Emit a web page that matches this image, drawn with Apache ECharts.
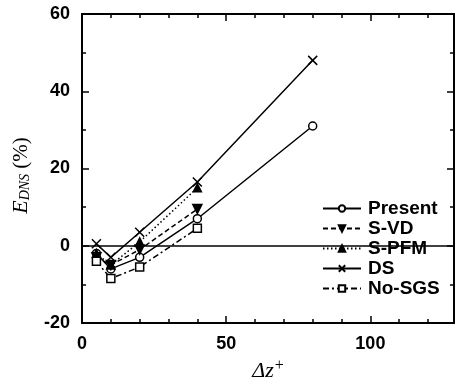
<!DOCTYPE html>
<html><head><meta charset="utf-8">
<script src="https://cdn.jsdelivr.net/npm/echarts@6/dist/echarts.min.js"></script>
<style>html,body{margin:0;padding:0;background:#fff}#c{width:455px;height:379px}</style>
</head><body><div id="c"></div>
<script>
const seriesNames = ['Present', 'S-VD', 'S-PFM', 'DS', 'No-SGS'];
const xPresent = [5, 10, 20, 40, 80];
const present = [-2, -6, -3, 7, 31];
const xShort = [5, 10, 20, 40];
const sVD = [-3, -5, -1, 9.5];
const sPFM = [-2, -5, 1, 15];
const xDS = [5, 10, 20, 40, 80];
const ds = [0.5, -3, 3.5, 16.5, 48];
const noSGS = [-4, -8.5, -5.5, 4.5];
const xTicks = [0, 50, 100];
const yTicks = [-20, 0, 20, 40, 60];

const font = 'Liberation Sans, Arial, sans-serif';
const serif = 'Liberation Serif, Times New Roman, serif';
const pair = (xs, ys) => xs.map((x, i) => [x, ys[i]]);
const xPath = 'path://M0,0L10,10M10,0L0,10';

function mk(name, data, symbol, size, lineType, fill) {
  return {
    name, type: 'line', data, symbol, symbolSize: size,
    xAxisIndex: 0, yAxisIndex: 0,
    lineStyle: { color: '#000', width: 1.5, type: lineType },
    itemStyle: { color: fill, borderColor: '#000', borderWidth: 1.5 },
    emphasis: { disabled: true }, animation: false
  };
}

const chart = echarts.init(document.getElementById('c'));
const axisCommon = {
  axisLine: { show: true, onZero: false, lineStyle: { color: '#000', width: 2 } },
  axisTick: { show: true, inside: true, length: 7, lineStyle: { color: '#000', width: 1.5 } },
  minorTick: { show: true, length: 4, lineStyle: { color: '#000', width: 1.5 } },
  splitLine: { show: false }
};
const labelStyle = { fontFamily: font, fontSize: 18, fontWeight: 'bold', color: '#000' };
chart.setOption({
  animation: false,
  grid: { left: 82, right: 1, top: 14, bottom: 56, outerBoundsMode: 'none', containLabel: false },
  legend: {
    orient: 'vertical', left: 314, top: 196,
    itemWidth: 38, itemHeight: 8, itemGap: 1,
    backgroundColor: '#fff', padding: [3, 2, 3, 8],
    textStyle: { fontFamily: font, fontSize: 19, fontWeight: 'bold', color: '#000', padding: [0, 0, 0, 2] },
    data: seriesNames
  },
  xAxis: [
    Object.assign({ type: 'value', min: 0, max: 129, interval: 50,
      axisLabel: Object.assign({ margin: 12, customValues: xTicks }, labelStyle),
      name: '{a|Δz}{b|+}', nameLocation: 'middle', nameGap: 25,
      nameTextStyle: { rich: {
        a: { fontFamily: serif, fontStyle: 'italic', fontSize: 22, color: '#000' },
        b: { fontFamily: serif, fontSize: 16, color: '#000', verticalAlign: 'top', padding: [0,0,10,1] } } }
    }, axisCommon, { minorTick: Object.assign({}, axisCommon.minorTick, { splitNumber: 5 }) }),
    Object.assign({ type: 'value', min: 0, max: 129, interval: 50, position: 'top',
      axisLabel: { show: false } }, axisCommon, { minorTick: Object.assign({}, axisCommon.minorTick, { splitNumber: 5 }) })
  ],
  yAxis: [
    Object.assign({ type: 'value', min: -20, max: 60, interval: 20,
      axisLabel: Object.assign({ margin: 12, customValues: yTicks }, labelStyle),
      name: '{a|E}{s|DNS}{p| (%)}', nameLocation: 'middle', nameGap: 50, nameRotate: 90,
      nameTextStyle: { padding: [0, 14, 0, 0], rich: {
        a: { fontFamily: serif, fontStyle: 'italic', fontSize: 22, color: '#000' },
        s: { fontFamily: serif, fontStyle: 'italic', fontSize: 14, color: '#000', verticalAlign: 'bottom', padding: [8,0,0,0] },
        p: { fontFamily: serif, fontSize: 21, color: '#000' } } }
    }, axisCommon, { minorTick: Object.assign({}, axisCommon.minorTick, { splitNumber: 2 }) }),
    Object.assign({ type: 'value', min: -20, max: 60, interval: 20, position: 'right',
      axisLabel: { show: false } }, axisCommon, { minorTick: Object.assign({}, axisCommon.minorTick, { splitNumber: 2 }) })
  ],
  series: [
    Object.assign(mk('Present', pair(xPresent, present), 'circle', 8, 'solid', '#fff'), {
      markLine: { silent: true, symbol: 'none', label: { show: false },
        lineStyle: { color: '#000', width: 1.5, type: 'solid' }, data: [{ yAxis: 0 }] }
    }),
    mk('S-VD', pair(xShort, sVD), 'path://M0,0L10,0L5,9Z', 9, [5, 3], '#000'),
    mk('S-PFM', pair(xShort, sPFM), 'triangle', 8, [1.5, 2.5], '#000'),
    mk('DS', pair(xDS, ds), xPath, 9, 'solid', 'none'),
    mk('No-SGS', pair(xShort, noSGS), 'rect', 8, [6, 3, 2, 3], '#fff')
  ]
});
</script></body></html>
